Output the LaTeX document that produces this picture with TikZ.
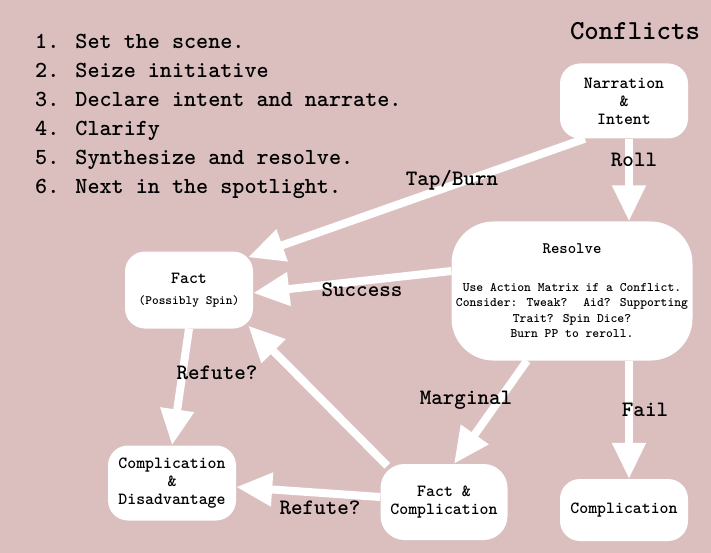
\documentclass[tikz,border=0pt]{standalone}
\usepackage{fontspec}
\usetikzlibrary{arrows.meta}
\definecolor{rosa}{RGB}{219,191,191}

\tikzset{
  kasten/.style={fill=white, rounded corners=20pt, inner sep=0pt, align=center,
    font=\ttfamily\bfseries\fontsize{17}{18}\selectfont},
  pfeil/.style={white, line width=8pt, -{Triangle[width=32pt,length=36pt]}},
  beschr/.style={inner sep=0pt, font=\ttfamily\bfseries\fontsize{22}{24}\selectfont},
}

\begin{document}
\begin{tikzpicture}[x=1pt,y=-1pt]
    % Hintergrund:
    \useasboundingbox (0,0) rectangle (711,553);
    \fill[rosa] (0,0) rectangle (711,553);
    % Titel und Liste:
    \node[beschr, font=\ttfamily\bfseries\fontsize{27.5}{30}\selectfont] (titel) at (635,31) {Conflicts};
    \node[beschr, anchor=north west, align=left, font=\ttfamily\bfseries\fontsize{23}{29}\selectfont] (liste) at (35,34)
      {1. Set the scene.\\2. Seize initiative\\3. Declare intent and narrate.\\4. Clarify\\5. Synthesize and resolve.\\6. Next in the spotlight.};
    % Kaesten:
    \node[kasten, minimum width=128, minimum height=75] (narr) at (624,101) {Narration\\\&\\Intent};
    \node[kasten, rounded corners=42pt, minimum width=241, minimum height=139,
          font=\ttfamily\bfseries\fontsize{13}{15.5}\selectfont] (res) at (572,291)
      {{\fontsize{16}{16}\selectfont Resolve}\\[22pt]
       Use Action Matrix if a Conflict.\\Consider: Tweak?~ Aid? Supporting\\Trait? Spin Dice?\\Burn PP to reroll.};
    \node[kasten, minimum width=128, minimum height=77] (fact) at (189,290)
      {Fact\\[3pt]\fontsize{12.8}{13}\selectfont (Possibly Spin)};
    \node[kasten, minimum width=128, minimum height=75] (cd) at (172,483) {Complication\\\&\\Disadvantage};
    \node[kasten, rounded corners=24pt, minimum width=127, minimum height=76] (fc) at (444,502) {Fact \&\\Complication};
    \node[kasten, minimum width=128, minimum height=62] (comp) at (624,510) {Complication};
    % Pfeile:
    \coordinate (roll) at ([xshift=5pt]narr.south);
    \draw[pfeil] (roll) -- (roll |- res.north); % Roll
    \draw[pfeil] ([xshift=25pt]narr.south west) -- ([shift={(-5,6)}]fact.north east); % Tap/Burn
    \draw[pfeil] ([shift={(0,-20)}]res.west) -- ([shift={(0,3)}]fact.east); % Success
    \coordinate (fail) at ([xshift=5pt]comp.north);
    \draw[pfeil] (fail |- res.south) -- (fail); % Fail
    \draw[pfeil] ([xshift=-45pt]res.south) -- ([xshift=10pt]fc.north); % Marginal
    \draw[pfeil] ([shift={(7,2)}]fc.north west) -- ([shift={(-5,-3)}]fact.south east);
    \draw[pfeil] ([shift={(0,-5)}]fc.west) -- ([shift={(0,4)}]cd.east); % Refute? unten
    \draw[pfeil] (fact.south) -- (cd.north); % Refute? oben
    % Beschriftungen:
    \node[beschr] (lroll) at (634,160) {Roll};
    \node[beschr] (ltap) at (452,180) {Tap/Burn};
    \node[beschr] (lsucc) at (362,290) {Success};
    \node[beschr] (lmarg) at (466,400) {Marginal};
    \node[beschr] (lfail) at (645,410) {Fail};
    \node[beschr] (lref1) at (217,373) {Refute?};
    \node[beschr] (lref2) at (320,508) {Refute?};
\end{tikzpicture}
\end{document}
